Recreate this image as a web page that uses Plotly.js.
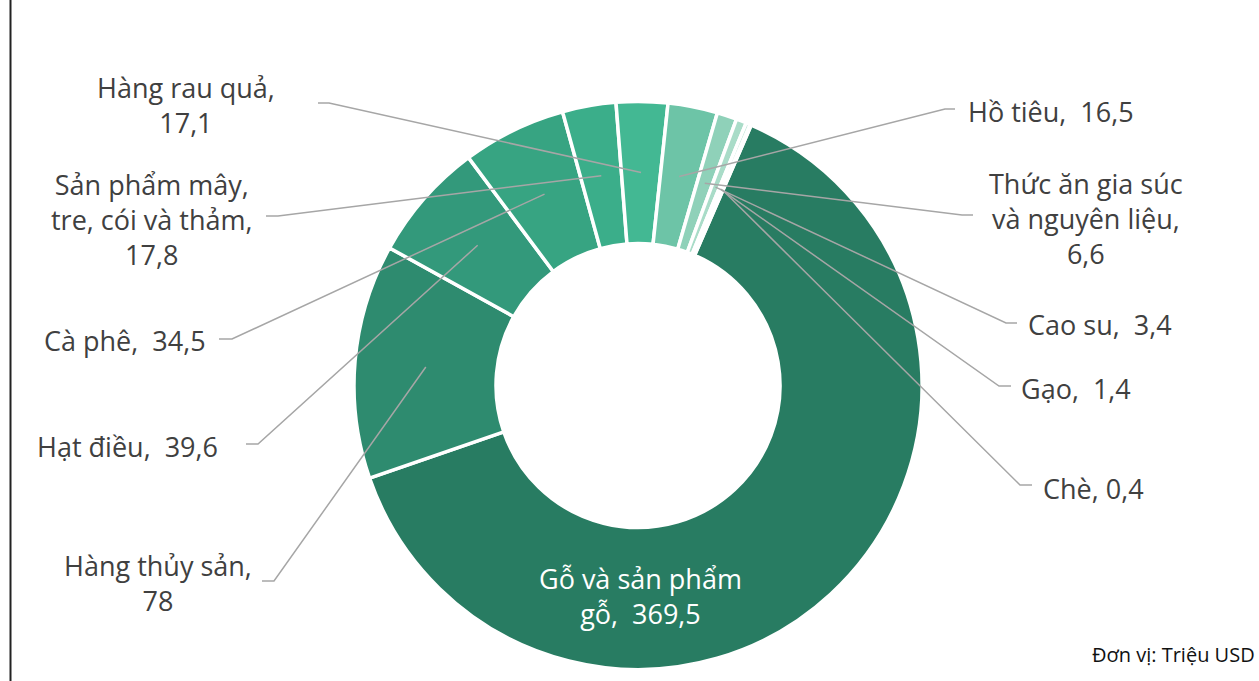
<!DOCTYPE html>
<html>
<head>
<meta charset="utf-8">
<script src="https://cdn.plot.ly/plotly-3.0.1.min.js"></script>
<style>html,body{margin:0;padding:0;background:#fff;}#chart{width:1259px;height:681px;}</style>
</head>
<body>
<div id="chart"></div>
<script>
// ---- data ----
const categories = ['Gỗ và sản phẩm gỗ', 'Hàng thủy sản', 'Hạt điều', 'Cà phê',
  'Sản phẩm mây, tre, cói và thảm', 'Hàng rau quả', 'Hồ tiêu',
  'Thức ăn gia súc và nguyên liệu', 'Cao su', 'Gạo', 'Chè'];
const values = [369.5, 78, 39.6, 34.5, 17.8, 17.1, 16.5, 6.6, 3.4, 1.4, 0.4];
// label name as wrapped in the picture, and separator before the value
const labelNames = ['Gỗ và sản phẩm<br>gỗ', 'Hàng thủy sản', 'Hạt điều', 'Cà phê',
  'Sản phẩm mây,<br>tre, cói và thảm', 'Hàng rau quả', 'Hồ tiêu',
  'Thức ăn gia súc<br>và nguyên liệu', 'Cao su', 'Gạo', 'Chè'];
const labelSeps = [',  ', ',<br>', ',  ', ',  ', ',<br>', ',<br>', ',  ', ',<br>', ',  ', ',  ', ', '];
const unitText = 'Đơn vị: Triệu USD';

// ---- styles / layout ----
const colors = ['#287c62', '#2e8b6f', '#33997b', '#37a482', '#3bae8a', '#43b893',
  '#6dc4a7', '#8fd1b9', '#a9dcc8', '#c0e6d7', '#d6efe5'];
const W = 1259, H = 681;
const CX = 638, CY = 385.5, R = 284, HOLE = 0.5, ROT = 23.5;
// label text centre (px) and leader: [textEndX, y, elbowX]
const labelPos = [[640, 596], [158, 583], [128, 446], [125, 340], [152, 219], [186, 105],
  [1051, 112], [1086, 218], [1100, 325], [1076, 388], [1093, 488]];
const leaders = [null, [262, 581, 274], [246, 444, 258], [219, 339, 232], [266, 216, 278],
  [318, 103, 329], [955, 109, 945], [973, 215, 962], [1017, 323, 1006], [1011, 386, 999], [1032, 485, 1020]];

const px = x => x / W;
const py = y => 1 - y / H;
const fmt = v => String(v).replace('.', ',');

const total = values.reduce((a, b) => a + b, 0);
const rMid = (R * HOLE + R) / 2;
let cum = 0;
const shapes = [];
const annotations = [];
values.forEach((v, i) => {
  const mid = ROT + (cum + v / 2) / total * 360;
  cum += v;
  const a = mid * Math.PI / 180;
  const ex = CX + rMid * Math.sin(a), ey = CY - rMid * Math.cos(a);
  const L = leaders[i];
  if (L) {
    shapes.push({
      type: 'path', xref: 'paper', yref: 'paper', layer: 'above',
      path: `M ${px(L[0])} ${py(L[1])} L ${px(L[2])} ${py(L[1])} L ${px(ex)} ${py(ey)}`,
      line: {color: '#a6a6a6', width: 1.5}
    });
  }
  annotations.push({
    xref: 'paper', yref: 'paper', x: px(labelPos[i][0]), y: py(labelPos[i][1]),
    xanchor: 'center', yanchor: 'middle', showarrow: false, align: 'center',
    text: labelNames[i] + labelSeps[i] + fmt(v),
    font: {family: 'Open Sans', size: 27, color: i === 0 ? '#ffffff' : '#404040'}
  });
});
annotations.push({
  xref: 'paper', yref: 'paper', x: px(1257), y: py(654), xanchor: 'right', yanchor: 'middle',
  showarrow: false, text: unitText, font: {family: 'Open Sans', size: 20, color: '#111111'}
});
shapes.push({type: 'line', xref: 'paper', yref: 'paper', x0: px(10.5), x1: px(10.5), y0: 0, y1: 1,
  line: {color: '#222222', width: 2}});

const trace = {
  type: 'pie', labels: categories, values: values, sort: false, direction: 'clockwise',
  rotation: ROT, hole: HOLE, textinfo: 'none', hoverinfo: 'label+value',
  marker: {colors: colors, line: {color: '#ffffff', width: 3.5}},
  domain: {x: [px(CX - R), px(CX + R)], y: [py(CY + R), py(CY - R)]}
};

Plotly.newPlot('chart', [trace], {
  width: W, height: H, margin: {l: 0, r: 0, t: 0, b: 0},
  paper_bgcolor: '#ffffff', plot_bgcolor: '#ffffff', showlegend: false,
  shapes: shapes, annotations: annotations
}, {displayModeBar: false, staticPlot: true});
</script>
</body>
</html>
